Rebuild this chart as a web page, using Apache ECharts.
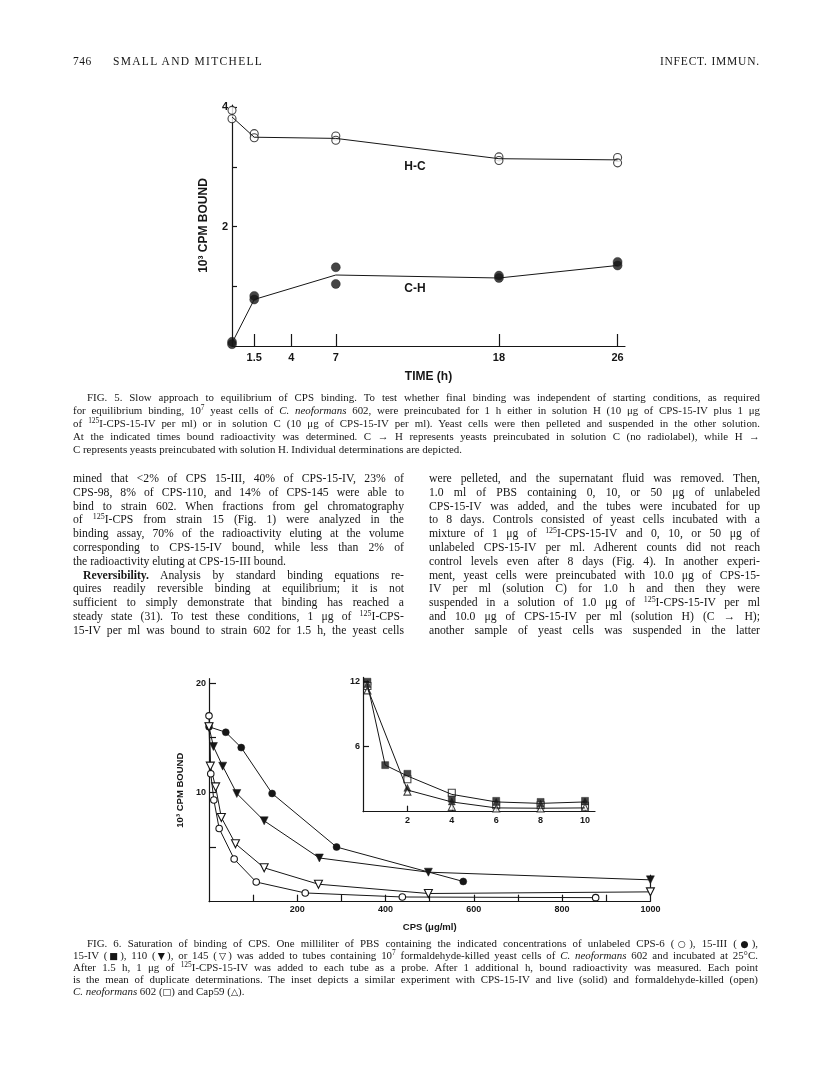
<!DOCTYPE html>
<html><head><meta charset="utf-8">
<script src="https://cdn.jsdelivr.net/npm/echarts@6.0.0/dist/echarts.min.js"></script>
<style>
html,body{margin:0;padding:0;background:#fff;}
#page{position:relative;width:816px;height:1082px;overflow:hidden;background:#fff;}
#chart{position:absolute;left:0;top:0;width:816px;height:1082px;}
.blk{position:absolute;font-family:"Liberation Serif","Times New Roman",serif;color:#161616;}
.ln{display:block;text-align:justify;text-align-last:justify;overflow:hidden;white-space:normal;height:1lh;}
.ln.last{text-align-last:left;}
.sup{font-size:0.68em;vertical-align:0.5em;line-height:0;}
.sym{font-family:"DejaVu Sans",sans-serif;font-size:0.85em;}
</style></head>
<body><div id="page">
<div id="chart"></div>

<div class="blk" style="left:73px;top:54px;width:687px;font-size:11.5px;line-height:14px;">
  <span style="position:absolute;left:0;top:0;letter-spacing:0.5px">746</span>
  <span style="position:absolute;left:40px;top:0;letter-spacing:1.3px">SMALL AND MITCHELL</span>
  <span style="position:absolute;right:0;top:0;letter-spacing:0.8px">INFECT. IMMUN.</span>
</div>

<div class="blk" style="left:73px;top:391px;width:687px;font-size:10.9px;line-height:13px;">
  <div class="ln" style="text-indent:14px">FIG. 5. Slow approach to equilibrium of CPS binding. To test whether final binding was independent of starting conditions, as required</div>
  <div class="ln">for equilibrium binding, 10<span class="sup">7</span> yeast cells of <i>C. neoformans</i> 602, were preincubated for 1 h either in solution H (10 μg of CPS-15-IV plus 1 μg</div>
  <div class="ln">of <span class="sup">125</span>I-CPS-15-IV per ml) or in solution C (10 μg of CPS-15-IV per ml). Yeast cells were then pelleted and suspended in the other solution.</div>
  <div class="ln">At the indicated times bound radioactivity was determined. C → H represents yeasts preincubated in solution C (no radiolabel), while H →</div>
  <div class="ln last">C represents yeasts preincubated with solution H. Individual determinations are depicted.</div>
</div>

<div class="blk" style="left:73px;top:472px;width:331px;font-size:11.7px;line-height:13.8px;">
  <div class="ln">mined that &lt;2% of CPS 15-III, 40% of CPS-15-IV, 23% of</div>
  <div class="ln">CPS-98, 8% of CPS-110, and 14% of CPS-145 were able to</div>
  <div class="ln">bind to strain 602. When fractions from gel chromatography</div>
  <div class="ln">of <span class="sup">125</span>I-CPS from strain 15 (Fig. 1) were analyzed in the</div>
  <div class="ln">binding assay, 70% of the radioactivity eluting at the volume</div>
  <div class="ln">corresponding to CPS-15-IV bound, while less than 2% of</div>
  <div class="ln last">the radioactivity eluting at CPS-15-III bound.</div>
  <div class="ln" style="text-indent:10px"><b>Reversibility.</b> Analysis by standard binding equations re-</div>
  <div class="ln">quires readily reversible binding at equilibrium; it is not</div>
  <div class="ln">sufficient to simply demonstrate that binding has reached a</div>
  <div class="ln">steady state (31). To test these conditions, 1 μg of <span class="sup">125</span>I-CPS-</div>
  <div class="ln">15-IV per ml was bound to strain 602 for 1.5 h, the yeast cells</div>
</div>

<div class="blk" style="left:429px;top:472px;width:331px;font-size:11.7px;line-height:13.8px;">
  <div class="ln">were pelleted, and the supernatant fluid was removed. Then,</div>
  <div class="ln">1.0 ml of PBS containing 0, 10, or 50 μg of unlabeled</div>
  <div class="ln">CPS-15-IV was added, and the tubes were incubated for up</div>
  <div class="ln">to 8 days. Controls consisted of yeast cells incubated with a</div>
  <div class="ln">mixture of 1 μg of <span class="sup">125</span>I-CPS-15-IV and 0, 10, or 50 μg of</div>
  <div class="ln">unlabeled CPS-15-IV per ml. Adherent counts did not reach</div>
  <div class="ln">control levels even after 8 days (Fig. 4). In another experi-</div>
  <div class="ln">ment, yeast cells were preincubated with 10.0 μg of CPS-15-</div>
  <div class="ln">IV per ml (solution C) for 1.0 h and then they were</div>
  <div class="ln">suspended in a solution of 1.0 μg of <span class="sup">125</span>I-CPS-15-IV per ml</div>
  <div class="ln">and 10.0 μg of CPS-15-IV per ml (solution H) (C → H);</div>
  <div class="ln">another sample of yeast cells was suspended in the latter</div>
</div>

<div class="blk" style="left:73px;top:937px;width:685px;font-size:10.9px;line-height:12px;">
  <div class="ln" style="text-indent:14px">FIG. 6. Saturation of binding of CPS. One milliliter of PBS containing the indicated concentrations of unlabeled CPS-6 (<span class="sym">○</span>), 15-III (<span class="sym">●</span>),</div>
  <div class="ln">15-IV (<span class="sym">■</span>), 110 (<span class="sym">▼</span>), or 145 (<span class="sym">▽</span>) was added to tubes containing 10<span class="sup">7</span> formaldehyde-killed yeast cells of <i>C. neoformans</i> 602 and incubated at 25°C.</div>
  <div class="ln">After 1.5 h, 1 μg of <span class="sup">125</span>I-CPS-15-IV was added to each tube as a probe. After 1 additional h, bound radioactivity was measured. Each point</div>
  <div class="ln">is the mean of duplicate determinations. The inset depicts a similar experiment with CPS-15-IV and live (solid) and formaldehyde-killed (open)</div>
  <div class="ln last"><i>C. neoformans</i> 602 (<span class="sym">□</span>) and Cap59 (<span class="sym">△</span>).</div>
</div>
</div>

<script>
// ---------- Fig. 5 data ----------
const fig5Times = [0, 1.5, 7, 18, 26];
const fig5TickValues = [1.5, 4, 7, 18, 26];
const hcLine = [3.84, 3.50, 3.48, 3.14, 3.12];
const hcPointsA = [3.95, 3.56, 3.52, 3.17, 3.16];
const hcPointsB = [3.81, 3.49, 3.45, 3.11, 3.07];
const chLine = [0.05, 0.78, 1.19, 1.14, 1.35];
const chPointsA = [0.07, 0.84, 1.32, 1.18, 1.41];
const chPointsB = [0.03, 0.78, 1.04, 1.14, 1.35];
const fig5YTicks = [1, 2, 3, 4];
const fig5YLabels = [2, 4];

// ---------- Fig. 6 main data ----------
const cps6X = [0, 4, 11, 23, 57, 107, 218, 438, 876];
const cps6Y = [17, 11.7, 9.3, 6.7, 3.9, 1.8, 0.8, 0.43, 0.37];
const cps15iiiX = [0, 38, 73, 143, 289, 576];
const cps15iiiY = [16, 15.5, 14.1, 9.9, 5.0, 1.85];
const cps110X = [0, 10, 31, 63, 125, 250, 497, 1000];
const cps110Y = [16, 14.2, 12.4, 9.9, 7.4, 4.0, 2.7, 2.0];
const cps145X = [0, 3, 15, 28, 60, 125, 248, 497, 1000];
const cps145Y = [16, 12.4, 10.5, 7.7, 5.3, 3.1, 1.6, 0.75, 0.9];
const fig6YTicks = [5, 10, 15, 20];
const fig6YLabels = [10, 20];
const fig6XTicks = [100, 200, 300, 400, 500, 600, 700, 800, 900];
const fig6XLabels = [200, 400, 600, 800, 1000];
const fig6EndBar = [1000];

// ---------- Fig. 6 inset data ----------
const line602X = [0.2, 1, 2, 4, 6, 8, 10];
const line602Y = [11.8, 4.3, 3.3, 1.6, 0.9, 0.77, 0.9];
const lineCap59X = [0.2, 2, 4, 6, 8, 10];
const lineCap59Y = [11.4, 2.0, 0.9, 0.35, 0.32, 0.35];
const live602X = [0.2, 1, 2, 4, 6, 8, 10];
const live602Y = [12.0, 4.3, 3.5, 1.2, 1.0, 0.9, 1.0];
const killed602X = [0.2, 2, 4, 6, 8, 10];
const killed602Y = [11.6, 3.0, 1.75, 0.6, 0.6, 0.55];
const liveCap59X = [0.2, 2, 4, 6, 8, 10];
const liveCap59Y = [11.8, 2.2, 0.95, 0.9, 0.75, 0.95];
const killedCap59X = [0.2, 2, 4, 6, 8, 10];
const killedCap59Y = [11.2, 1.85, 0.45, 0.3, 0.3, 0.4];
const insetXTicks = [2, 4, 6, 8, 10];
const insetYTicks = [6, 12];

const ink = '#161616';
const pairs = (xs, ys) => xs.map((x, i) => [x, ys[i]]);
const sans = '"Liberation Sans", Arial, sans-serif';
const plain = v => String(v);

function ax(grid, min, max, ticks, labels, opt) {
  return Object.assign({
    type: 'value', gridIndex: grid, min: min, max: max,
    axisLine: { show: true, onZero: false, lineStyle: { color: ink, width: 1.2 } },
    axisTick: { show: true, inside: true, length: opt.tickLen, customValues: ticks, lineStyle: { color: ink, width: 1.2 } },
    axisLabel: { show: true, customValues: labels, formatter: plain, color: ink, fontFamily: sans, fontWeight: 'bold', fontSize: opt.fs, margin: opt.margin },
    splitLine: { show: false }
  }, opt.extra || {});
}

const openStyle = { color: '#fff', borderColor: ink, borderWidth: 1.1 };
const fillStyle = { color: ink, borderColor: ink, borderWidth: 0.5 };
const lineStyle = { color: ink, width: 1 };

const option = {
  animation: false,
  backgroundColor: 'transparent',
  grid: [
    { left: 232, top: 105, width: 393, height: 241 },
    { left: 209, top: 678.7, width: 441.4, height: 223 },
    { left: 363, top: 677.4, width: 232, height: 134.3 }
  ],
  xAxis: [
    ax(0, 0, 26.5, fig5TickValues, fig5TickValues, { tickLen: 12, fs: 11, margin: 6, extra: {
      name: 'TIME (h)', nameLocation: 'middle', nameGap: 25,
      nameTextStyle: { color: ink, fontFamily: sans, fontWeight: 'bold', fontSize: 12 } } }),
    ax(1, 0, 1000, fig6XTicks, fig6XLabels, { tickLen: 7, fs: 9, margin: 3, extra: {
      name: 'CPS (μg/ml)', nameLocation: 'middle', nameGap: 21,
      nameTextStyle: { color: ink, fontFamily: sans, fontWeight: 'bold', fontSize: 9.5 } } }),
    ax(2, 0, 10.45, insetXTicks, insetXTicks, { tickLen: 6, fs: 9, margin: 4 }),
    { type: 'value', gridIndex: 1, min: 0, max: 1000, position: 'bottom',
      axisLine: { show: false }, axisLabel: { show: false }, splitLine: { show: false },
      axisTick: { show: true, inside: true, length: 27, customValues: fig6EndBar, lineStyle: { color: ink, width: 1.2 } } }
  ],
  yAxis: [
    ax(0, 0, 4.04, fig5YTicks, fig5YLabels, { tickLen: 5, fs: 11, margin: 4, extra: {
      name: '10³ CPM BOUND', nameLocation: 'middle', nameGap: 22, nameRotate: 90,
      nameTextStyle: { color: ink, fontFamily: sans, fontWeight: 'bold', fontSize: 12 } } }),
    ax(1, 0, 20.4, fig6YTicks, fig6YLabels, { tickLen: 7, fs: 9, margin: 3, extra: {
      name: '10³ CPM BOUND', nameLocation: 'middle', nameGap: 22, nameRotate: 90,
      nameTextStyle: { color: ink, fontFamily: sans, fontWeight: 'bold', fontSize: 9.5 } } }),
    ax(2, 0, 12.4, insetYTicks, insetYTicks, { tickLen: 6, fs: 9, margin: 3 })
  ],
  series: [
    { type: 'line', xAxisIndex: 0, yAxisIndex: 0, data: pairs(fig5Times, hcLine), showSymbol: false, lineStyle: lineStyle },
    { type: 'scatter', xAxisIndex: 0, yAxisIndex: 0, data: pairs(fig5Times, hcPointsA), symbol: 'circle', symbolSize: 8, itemStyle: openStyle },
    { type: 'scatter', xAxisIndex: 0, yAxisIndex: 0, data: pairs(fig5Times, hcPointsB), symbol: 'circle', symbolSize: 8, itemStyle: openStyle },
    { type: 'line', xAxisIndex: 0, yAxisIndex: 0, data: pairs(fig5Times, chLine), showSymbol: false, lineStyle: lineStyle },
    { type: 'scatter', xAxisIndex: 0, yAxisIndex: 0, data: pairs(fig5Times, chPointsA), symbol: 'circle', symbolSize: 9, itemStyle: fillStyle },
    { type: 'scatter', xAxisIndex: 0, yAxisIndex: 0, data: pairs(fig5Times, chPointsB), symbol: 'circle', symbolSize: 9, itemStyle: fillStyle },
    { type: 'line', xAxisIndex: 1, yAxisIndex: 1, data: pairs(cps6X, cps6Y), symbol: 'circle', symbolSize: 6.5, itemStyle: openStyle, lineStyle: lineStyle },
    { type: 'line', xAxisIndex: 1, yAxisIndex: 1, data: pairs(cps15iiiX, cps15iiiY), symbol: 'circle', symbolSize: 7, itemStyle: fillStyle, lineStyle: lineStyle },
    { type: 'line', xAxisIndex: 1, yAxisIndex: 1, data: pairs(cps110X, cps110Y), symbol: 'triangle', symbolRotate: 180, symbolSize: 8, itemStyle: fillStyle, lineStyle: lineStyle },
    { type: 'line', xAxisIndex: 1, yAxisIndex: 1, data: pairs(cps145X, cps145Y), symbol: 'triangle', symbolRotate: 180, symbolSize: 8, itemStyle: openStyle, lineStyle: lineStyle },
    { type: 'line', xAxisIndex: 2, yAxisIndex: 2, data: pairs(line602X, line602Y), showSymbol: false, lineStyle: lineStyle },
    { type: 'line', xAxisIndex: 2, yAxisIndex: 2, data: pairs(lineCap59X, lineCap59Y), showSymbol: false, lineStyle: lineStyle },
    { type: 'scatter', xAxisIndex: 2, yAxisIndex: 2, data: pairs(live602X, live602Y), symbol: 'rect', symbolSize: 7, itemStyle: fillStyle },
    { type: 'scatter', xAxisIndex: 2, yAxisIndex: 2, data: pairs(killed602X, killed602Y), symbol: 'rect', symbolSize: 7, itemStyle: openStyle },
    { type: 'scatter', xAxisIndex: 2, yAxisIndex: 2, data: pairs(liveCap59X, liveCap59Y), symbol: 'triangle', symbolSize: 7, itemStyle: fillStyle },
    { type: 'scatter', xAxisIndex: 2, yAxisIndex: 2, data: pairs(killedCap59X, killedCap59Y), symbol: 'triangle', symbolSize: 7, itemStyle: openStyle }
  ],
  graphic: [
    { type: 'text', x: 415, y: 167, style: { text: 'H-C', font: 'bold 12px ' + sans, fill: ink, align: 'center', verticalAlign: 'middle' } },
    { type: 'text', x: 415, y: 289, style: { text: 'C-H', font: 'bold 12px ' + sans, fill: ink, align: 'center', verticalAlign: 'middle' } }
  ]
};

const chart = echarts.init(document.getElementById('chart'));
chart.setOption(option);
</script>
</body></html>
